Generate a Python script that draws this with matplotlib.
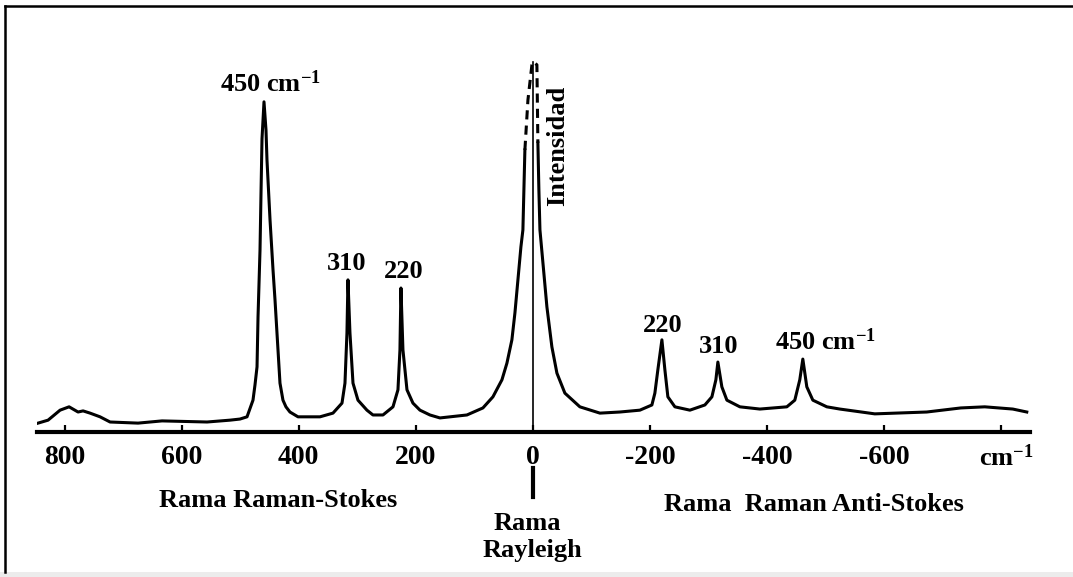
import matplotlib
matplotlib.use("Agg")
import matplotlib.pyplot as plt
from matplotlib.lines import Line2D
from matplotlib.patches import Rectangle

plt.rcParams["font.family"] = "Liberation Serif"
plt.rcParams["font.weight"] = "bold"
plt.rcParams["mathtext.fontset"] = "custom"
plt.rcParams["mathtext.rm"] = "Liberation Serif:bold"
plt.rcParams["mathtext.it"] = "Liberation Serif:bold"
plt.rcParams["mathtext.bf"] = "Liberation Serif:bold"
plt.rcParams["axes.unicode_minus"] = False

# -----------------------------
# Data: shift in cm-1, intensity in arbitrary units
# -----------------------------
# Stokes side + left wing of the Rayleigh line (solid)
left_shift = [845.2, 828.1, 807.6, 792.2, 776.9, 768.3, 756.4, 739.3, 722.2, 674.4,
              633.4, 556.6, 517.3, 500.3, 488.3, 478.1, 474.7, 471.2, 469.5, 466.1,
              464.4, 462.7, 459.3, 455.9, 454.2, 449.0, 443.9, 440.5, 435.4, 432.0,
              426.9, 421.8, 415.0, 401.2, 363.7, 341.5, 326.1, 321.0, 317.6, 315.9,
              312.5, 307.3, 298.8, 283.5, 273.2, 256.1, 239.0, 230.5, 227.1, 225.4,
              222.0, 215.1, 204.9, 192.9, 175.9, 158.8, 112.7, 85.4, 68.3, 52.9,
              44.4, 35.9, 30.7, 25.6, 20.5, 17.1, 15.4, 13.7]
left_int = [2.4, 3.2, 5.9, 6.8, 5.4, 5.7, 5.1, 4.1, 2.7, 2.4,
            3.0, 2.7, 3.2, 3.5, 4.1, 8.6, 12.7, 17.6, 31.1, 49.2,
            64.6, 79.2, 89.2, 81.6, 73.5, 57.3, 43.8, 35.7, 22.2, 13.2,
            8.6, 6.8, 5.4, 4.1, 4.1, 5.1, 7.8, 13.2, 26.8, 41.1,
            26.8, 13.2, 8.6, 5.9, 4.6, 4.6, 6.8, 11.4, 22.2, 38.9,
            22.2, 11.4, 7.8, 5.9, 4.6, 3.8, 4.6, 6.5, 9.5, 14.1,
            18.6, 24.9, 32.2, 41.1, 50.0, 54.6, 65.4, 76.2]

# top of the Rayleigh line (dashed)
top_shift = [13.7, 8.5, 1.7, 0.0, -6.8, -8.5]
top_int = [76.2, 89.7, 99.2, 100.0, 99.2, 78.1]

# right wing of the Rayleigh line + anti-Stokes side (solid)
right_shift = [-8.5, -10.2, -12.0, -17.1, -23.9, -32.4, -41.0, -54.6, -80.2, -114.4,
               -148.5, -182.7, -203.2, -208.3, -213.4, -220.3, -225.4, -230.5, -242.5, -268.1,
               -293.7, -305.7, -312.5, -315.9, -322.7, -331.3, -353.5, -387.6, -433.7, -447.3,
               -455.8, -461.0, -467.8, -478.1, -502.0, -524.2, -583.9, -672.7, -730.8, -771.7,
               -819.6, -843.5]
right_int = [78.1, 65.4, 54.6, 45.7, 33.8, 23.0, 15.9, 10.5, 6.8, 5.1,
             5.4, 5.9, 7.3, 10.5, 16.8, 24.9, 16.8, 9.5, 6.8, 5.9,
             7.3, 9.5, 14.1, 18.9, 12.2, 8.6, 6.8, 6.2, 6.8, 8.6,
             14.1, 19.7, 12.2, 8.6, 6.8, 6.2, 4.9, 5.4, 6.5, 6.8,
             6.2, 5.4]

tick_pos = [800, 600, 400, 200, 0, -200, -400, -600, -800]
tick_labels = ["800", "600", "400", "200", "0", "-200", "-400", "-600", ""]

# peak labels: (text, shift, intensity of text baseline)
peak_labels = [
    ("450 cm$^{-1}$", 448, 91.9),
    ("310", 319, 43.8),
    ("220", 221, 41.6),
    ("220", -222, 27.0),
    ("310", -318, 21.4),
    ("450 cm$^{-1}$", -499, 22.2),
]

# -----------------------------
# Figure
# -----------------------------
W, H = 1073, 577
fig = plt.figure(figsize=(W / 100, H / 100), dpi=100)
ax = fig.add_axes([37 / W, (H - 432) / H, (1030 - 37) / W, (432 - 50) / H])

lw = 2.2
ax.plot(left_shift, left_int, color="black", lw=lw, solid_joinstyle="round")
ax.plot(top_shift, top_int, color="black", lw=lw, linestyle=(0, (3, 2)))
ax.plot(right_shift, right_int, color="black", lw=lw, solid_joinstyle="round")

# Rayleigh marker
ax.plot([0, 0], [0, 100], color="black", lw=1.2)
ax.plot([0, 0], [-9.7, -17.6], color="black", lw=3, clip_on=False)

ax.set_xlim(847, -849)
ax.set_ylim(0, 103.2)

for s in ["top", "left", "right"]:
    ax.spines[s].set_visible(False)
ax.spines["bottom"].set_linewidth(3)
ax.set_yticks([])
ax.set_xticks(tick_pos)
ax.set_xticklabels(tick_labels)
ax.tick_params(axis="x", direction="in", length=5, width=1.6, pad=9, labelsize=20)

fs = 19
for txt, x, y in peak_labels:
    ax.text(x, y, txt, ha="center", va="baseline", fontsize=fs, fontweight="bold")

ax.text(-42.7, 77.3, "Intensidad", rotation=90, ha="center", va="center",
        fontsize=fs, fontweight="bold")
ax.text(-809, -9.2, "cm$^{-1}$", ha="center", va="baseline", fontsize=fs,
        fontweight="bold", clip_on=False)
ax.text(436, -20.3, "Rama Raman-Stokes", ha="center", va="baseline", fontsize=fs,
        fontweight="bold", clip_on=False)
ax.text(-480, -21.4, "Rama  Raman Anti-Stokes", ha="center", va="baseline",
        fontsize=fs, fontweight="bold", clip_on=False)
ax.text(10, -26.5, "Rama", ha="center", va="baseline", fontsize=fs,
        fontweight="bold", clip_on=False)
ax.text(0, -33.8, "Rayleigh", ha="center", va="baseline", fontsize=fs,
        fontweight="bold", clip_on=False)

# picture frame
fig.add_artist(Rectangle((0, 0), 1, 5 / H, transform=fig.transFigure,
                         color="#ececec", lw=0))
fig.add_artist(Line2D([5 / W, 1], [1 - 6 / H, 1 - 6 / H], transform=fig.transFigure,
                      color="black", lw=1.8))
fig.add_artist(Line2D([5 / W, 5 / W], [5 / H, 1 - 6 / H], transform=fig.transFigure,
                      color="black", lw=1.8))

fig.savefig("out.png", dpi=100)
